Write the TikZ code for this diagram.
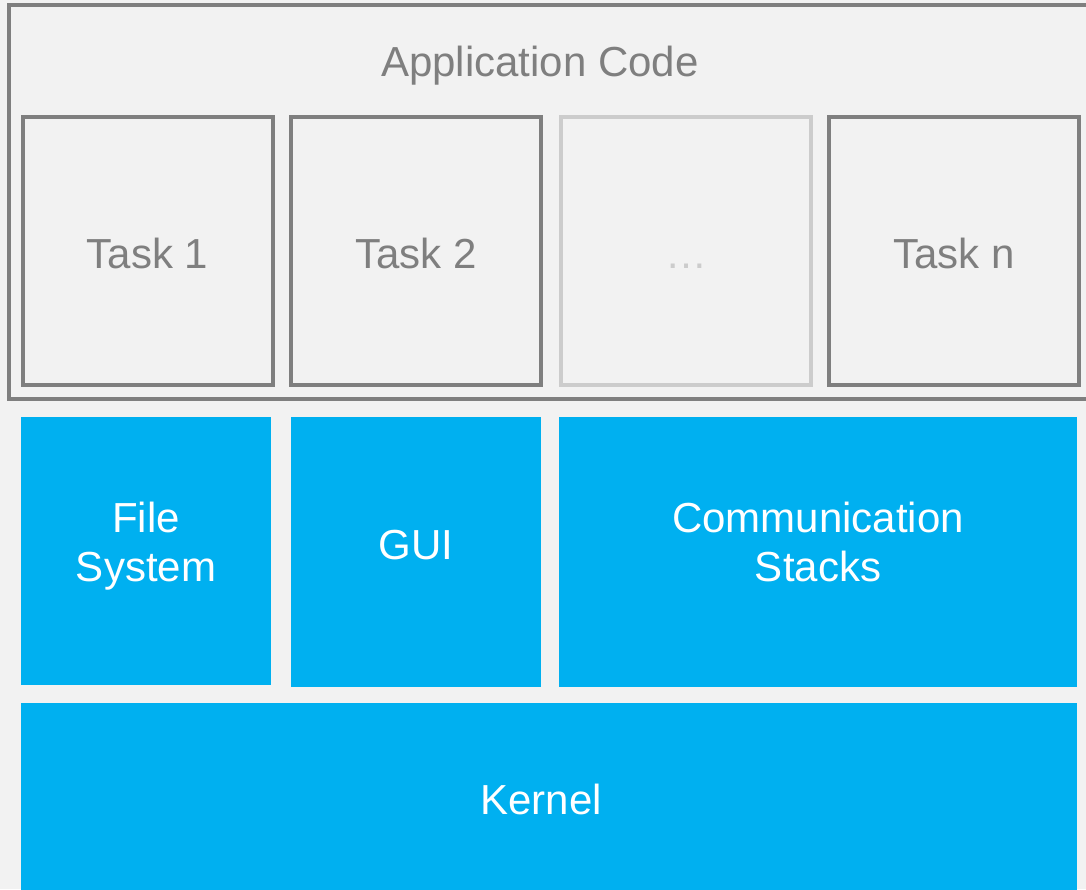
\documentclass[tikz,border=0pt]{standalone}
\usepackage{fontspec}
\setmainfont{Liberation Sans}
\usepackage{tikz}
\usetikzlibrary{positioning}
\definecolor{bggray}{HTML}{F2F2F2}
\definecolor{framegray}{HTML}{7F7F7F}
\definecolor{palegray}{HTML}{CCCCCC}
\definecolor{layerblue}{HTML}{00B0F0}
\tikzset{
  taskbox/.style={draw=framegray,line width=2pt,fill=bggray,minimum width=125pt,minimum height=134pt,inner sep=0pt},
  tasktext/.style={anchor=base,inner sep=0pt,text=framegray,font=\fontsize{21}{24.5}\selectfont},
  layertext/.style={anchor=base,inner sep=0pt,text=white,align=center,font=\fontsize{21}{24.5}\selectfont},
}
\begin{document}
\begin{tikzpicture}[x=0.5pt,y=-0.5pt]
\useasboundingbox (0,0) rectangle (1086,889);
\clip (0,0) rectangle (1086,889);
\fill[bggray] (0,0) rectangle (1086,889);
% --- application layer
\draw[framegray,line width=2pt] (1100,5) -- (9,5) -- (9,399) -- (1100,399);
\node[tasktext] (app) at (540,76) {Application Code};
\node[taskbox] (task1) at (147.5,251) {};
\node[taskbox] (task2) at (416,251) {};
\node[taskbox,draw=palegray] (taskdots) at (686,251) {};
\node[taskbox] (taskn) at (954,251) {};
\node[tasktext] at (task1|-0,268) {Task 1};
\node[tasktext] at (task2|-0,268) {Task 2};
\node[tasktext,text=palegray] at (taskdots|-0,268) {…};
\node[tasktext] at (taskn|-0,268) {Task n};
% --- middleware + kernel
\fill[layerblue] (21,417) rectangle (271,685);
\fill[layerblue] (291,417) rectangle (541,687);
\fill[layerblue] (559,417) rectangle (1077,687);
\fill[layerblue] (21,703) rectangle (1077,897);
\node[layertext] (fs) at (146,581) {File\\System};
\node[layertext] (gui) at (416,559) {GUI};
\node[layertext] (comm) at (818,581) {Communication\\Stacks};
\node[layertext] (kernel) at (541,814) {Kernel};
\end{tikzpicture}
\end{document}
